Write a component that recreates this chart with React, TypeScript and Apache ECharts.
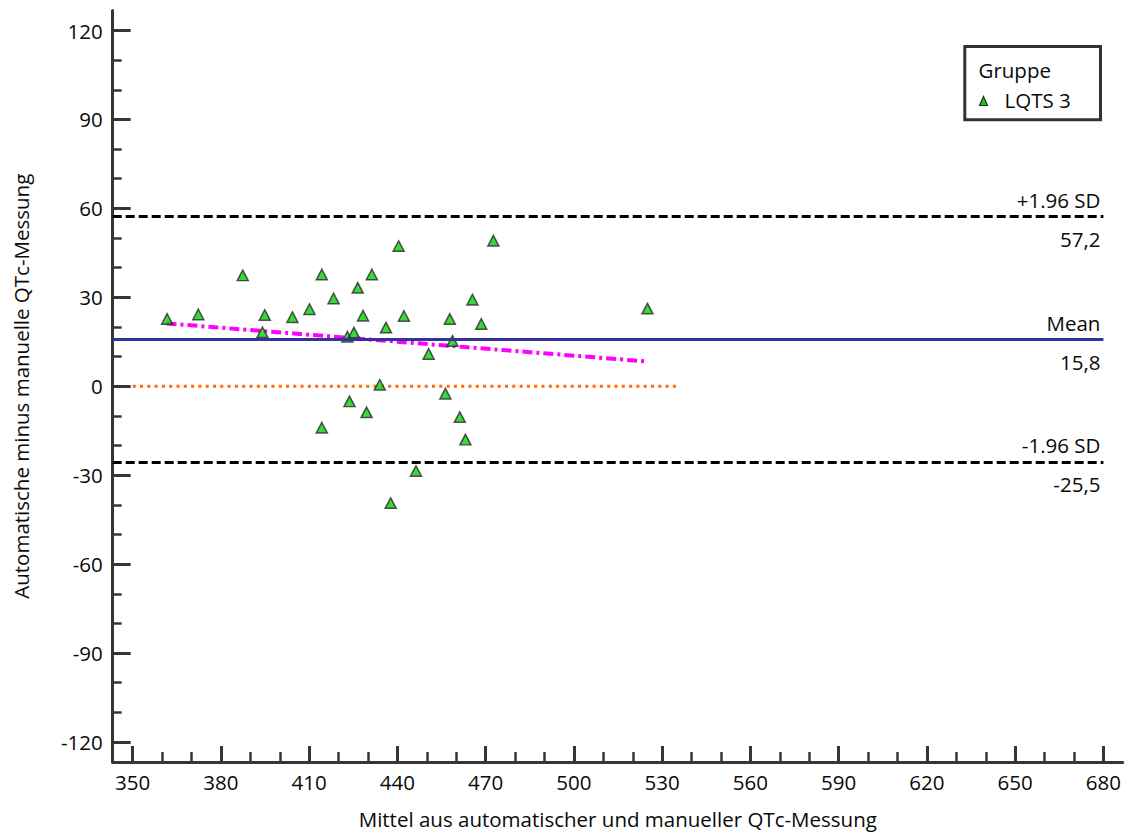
import React, { useEffect, useRef } from "react";
import * as echarts from "echarts";

// ---- data ----
const meanValues = [
  361.7, 372.3, 387.4, 394.1, 394.9, 404.3, 410.1, 414.3, 418.3, 423.0, 425.2,
  426.5, 428.3, 431.3, 436.1, 440.4, 442.2, 450.6, 457.8, 458.7, 465.5, 468.5,
  472.6, 525.0, 434.0, 456.3, 423.7, 429.5, 461.2, 414.3, 463.1, 446.3, 437.7,
];
const diffValues = [
  22.7, 24.2, 37.4, 18.2, 24.0, 23.3, 26.0, 37.7, 29.6, 16.7, 18.1,
  33.2, 23.8, 37.7, 19.8, 47.3, 23.7, 10.9, 22.7, 15.3, 29.2, 21.0,
  49.1, 26.2, 0.5, -2.5, -5.1, -8.8, -10.4, -14.0, -18.0, -28.6, -39.4,
];
const regressionX = [361.5, 524.3];
const regressionY = [21.2, 8.4];
const zeroLineX = [350, 535];
const upperLimit = 57.2;
const meanDiff = 15.8;
const lowerLimit = -25.5;
const upperLabel = "+1.96 SD";
const meanLabel = "Mean";
const lowerLabel = "-1.96 SD";
const upperValueLabel = "57,2";
const meanValueLabel = "15,8";
const lowerValueLabel = "-25,5";

const xTickLabels = [350, 380, 410, 440, 470, 500, 530, 560, 590, 620, 650, 680];
const yTickLabels = [-120, -90, -60, -30, 0, 30, 60, 90, 120];
const xMinorTicks = [360, 370, 390, 400, 420, 430, 450, 460, 480, 490, 510, 520, 540, 550, 570, 580, 600, 610, 630, 640, 660, 670];
const yMinorTicks = [-110, -100, -80, -70, -50, -40, -20, -10, 10, 20, 40, 50, 70, 80, 100, 110];

const xName = "Mittel aus automatischer und manueller QTc-Messung";
const yName = "Automatische minus manuelle QTc-Messung";
const legendTitle = "Gruppe";
const groupName = "LQTS 3";

// axis extents
const X_MIN = 343.2;
const X_MAX = 686.6;
const LINE_END = 680;
const Y_MIN = -126.75;
const Y_MAX = 126.75;

const FONT = "'Open Sans', 'Noto Sans', sans-serif";
const FS = 20.5;
const AXIS_COLOR = "#363636";
const TEXT_COLOR = "#0a0a0a";
const GREEN = "#08d008";

const labelStyle = { color: TEXT_COLOR, fontSize: FS, fontFamily: FONT };
const hidden = { color: "rgba(0,0,0,0)", width: 1, type: "solid" };

function refLine(value: number, top: string, bottom: string, style: any) {
  return [
    [
      { coord: [X_MIN, value], lineStyle: style, label: { ...labelStyle, show: true, position: "insideEndTop", formatter: top, distance: [3, 6] } },
      { coord: [LINE_END, value], lineStyle: style },
    ],
    [
      { coord: [X_MIN, value], lineStyle: hidden, label: { ...labelStyle, show: true, position: "insideEndBottom", formatter: bottom, distance: [3, 12] } },
      { coord: [LINE_END, value], lineStyle: hidden },
    ],
  ];
}

export default function App() {
  const ref = useRef<HTMLDivElement>(null);
  useEffect(() => {
    if (!ref.current) return;
    const chart = echarts.init(ref.current, undefined, { renderer: "svg" });
    const dashed = { color: "#000000", width: 3, type: [9, 4] };
    const meanStyle = { color: "#333399", width: 3.2, type: "solid" };
    const option: any = {
      animation: false,
      backgroundColor: "#ffffff",
      textStyle: { fontFamily: FONT },
      grid: { left: 112.7, right: 0, top: 10.5, bottom: 68.3, containLabel: false },
      xAxis: [
        {
          type: "value",
          min: X_MIN,
          max: X_MAX,
          position: "bottom",
          name: xName,
          nameLocation: "middle",
          nameGap: 46,
          nameTextStyle: { color: TEXT_COLOR, fontSize: FS, fontFamily: FONT },
          axisLine: { show: true, onZero: false, lineStyle: { color: AXIS_COLOR, width: 3 } },
          axisTick: { show: true, inside: true, length: 16, customValues: xTickLabels, lineStyle: { color: AXIS_COLOR, width: 3 } },
          axisLabel: { customValues: xTickLabels, color: TEXT_COLOR, fontSize: FS, fontFamily: FONT, margin: 9 },
          splitLine: { show: false },
        },
        {
          type: "value",
          min: X_MIN,
          max: X_MAX,
          position: "bottom",
          axisLine: { show: false, onZero: false },
          axisTick: { show: true, inside: true, length: 10, customValues: xMinorTicks, lineStyle: { color: AXIS_COLOR, width: 2.5 } },
          axisLabel: { show: false },
          splitLine: { show: false },
        },
      ],
      yAxis: [
        {
          type: "value",
          min: Y_MIN,
          max: Y_MAX,
          position: "left",
          name: yName,
          nameLocation: "middle",
          nameGap: 81,
          nameTextStyle: { color: TEXT_COLOR, fontSize: FS, fontFamily: FONT },
          axisLine: { show: true, onZero: false, lineStyle: { color: AXIS_COLOR, width: 3 } },
          axisTick: { show: true, inside: true, length: 18, customValues: yTickLabels, lineStyle: { color: AXIS_COLOR, width: 3 } },
          axisLabel: { customValues: yTickLabels, color: TEXT_COLOR, fontSize: FS, fontFamily: FONT, margin: 10 },
          splitLine: { show: false },
        },
        {
          type: "value",
          min: Y_MIN,
          max: Y_MAX,
          position: "left",
          axisLine: { show: false, onZero: false },
          axisTick: { show: true, inside: true, length: 9, customValues: yMinorTicks, lineStyle: { color: AXIS_COLOR, width: 2.5 } },
          axisLabel: { show: false },
          splitLine: { show: false },
        },
      ],
      series: [
        {
          type: "line",
          name: "zero",
          data: zeroLineX.map((x) => [x, 0]),
          symbol: "none",
          silent: true,
          lineStyle: { color: "#ff6a00", width: 3, type: [3, 4.3] },
          z: 1,
          markLine: {
            silent: true,
            symbol: "none",
            label: labelStyle,
            data: [
              ...refLine(upperLimit, upperLabel, upperValueLabel, dashed),
              ...refLine(meanDiff, meanLabel, meanValueLabel, meanStyle),
              ...refLine(lowerLimit, lowerLabel, lowerValueLabel, dashed),
            ],
          },
        },
        {
          type: "line",
          name: "regression",
          data: regressionX.map((x, i) => [x, regressionY[i]]),
          symbol: "none",
          silent: true,
          lineStyle: { color: "#ff00ff", width: 4, type: [10, 4, 3, 4] },
          z: 2,
        },
        {
          type: "scatter",
          name: groupName,
          data: meanValues.map((x, i) => [x, diffValues[i]]),
          symbol: "triangle",
          symbolSize: [11, 10.5],
          itemStyle: { color: GREEN, borderColor: "#2a2a2a", borderWidth: 1.5 },
          z: 3,
        },
      ],
      graphic: [
        {
          type: "group",
          left: 963.3,
          top: 45,
          children: [
            { type: "rect", shape: { x: 0, y: 0, width: 135.7, height: 73.3 }, style: { fill: "#ffffff", stroke: "#333333", lineWidth: 3 } },
            { type: "text", x: 13.7, y: 23, style: { text: legendTitle, fill: TEXT_COLOR, fontSize: FS, fontFamily: FONT, verticalAlign: "middle" } },
            { type: "polygon", shape: { points: [[14.7, 59], [22.7, 59], [18.7, 50]] }, style: { fill: GREEN, stroke: "#2a2a2a", lineWidth: 1.2 } },
            { type: "text", x: 39.7, y: 53, style: { text: groupName, fill: TEXT_COLOR, fontSize: FS, fontFamily: FONT, verticalAlign: "middle" } },
          ],
        },
      ],
    };
    chart.setOption(option);
    return () => chart.dispose();
  }, []);
  return (
    <div
      ref={ref}
      style={{ position: "absolute", left: 0, top: 0, width: 1124, height: 834, background: "#fff" }}
    />
  );
}
